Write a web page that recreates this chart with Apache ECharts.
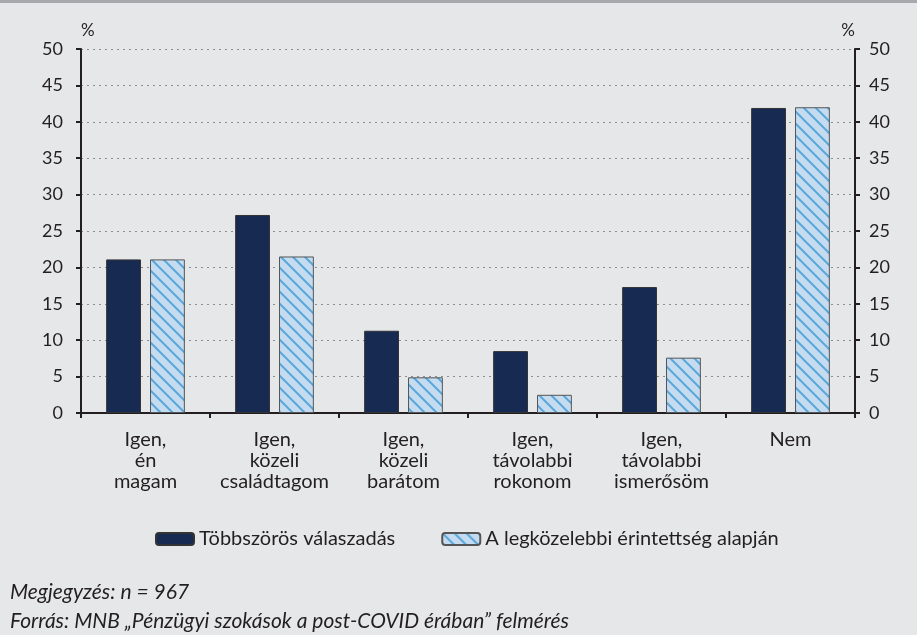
<!DOCTYPE html>
<html><head><meta charset="utf-8">
<script src="https://cdn.jsdelivr.net/npm/echarts@6/dist/echarts.min.js"></script>
<style>html,body{margin:0;padding:0;background:#e6e7e8;}#c{width:917px;height:635px;}</style>
</head><body><div id="c"></div>
<script>
const categories = ['Igen,\nén\nmagam','Igen,\nközeli\ncsaládtagom','Igen,\nközeli\nbarátom','Igen,\ntávolabbi\nrokonom','Igen,\ntávolabbi\nismerősöm','Nem'];
const seriesNames = ['Többszörös válaszadás','A legközelebbi érintettség alapján'];
const multiple = [21.1, 27.2, 11.3, 8.5, 17.3, 41.9];
const closest = [21.1, 21.5, 4.9, 2.5, 7.6, 42.0];
const yTicks = {min:0, max:50, interval:5};
const notes = ['Megjegyzés: n = 967','Forrás: MNB „Pénzügyi szokások a post-COVID érában” felmérés'];

const FONT = 'Lato, "Open Sans", sans-serif';
const pat = document.createElement('canvas');
pat.width = 12; pat.height = 12;
const g = pat.getContext('2d');
g.fillStyle = '#c5dcf0'; g.fillRect(0,0,12,12);
g.strokeStyle = '#5aa7db'; g.lineWidth = 2;
g.beginPath();
g.moveTo(-2,-2); g.lineTo(14,14);
g.moveTo(-14,-2); g.lineTo(2,14);
g.moveTo(10,-2); g.lineTo(26,14);
g.stroke();

const chart = echarts.init(document.getElementById('c'), null, {renderer:'canvas'});
const yAxisBase = {
  type:'value', min:yTicks.min, max:yTicks.max, interval:yTicks.interval,
  axisLine:{show:true, lineStyle:{color:'#231f20', width:2}},
  axisTick:{show:true, length:5, inside:false, lineStyle:{color:'#231f20', width:2}},
  axisLabel:{color:'#231f20', fontSize:18, fontFamily:FONT},
};
chart.setOption({
  backgroundColor:'#e6e7e8',
  animation:false,
  grid:{left:81, right:62, top:49, bottom:222, containLabel:false},
  graphic:[
    {type:'rect', left:0, top:0, shape:{width:917, height:3}, style:{fill:'#a7a9ac'}},
    {type:'text', left:10, top:582, style:{text:notes[0], font:'italic 21px '+FONT, fill:'#231f20'}},
    {type:'text', left:10, top:611, style:{text:notes[1], font:'italic 21px '+FONT, fill:'#231f20'}}
  ],
  legend:{
    top:524, left:150, itemWidth:38, itemHeight:12, itemGap:46,
    textStyle:{fontSize:20, color:'#231f20', fontFamily:FONT},
    data:seriesNames
  },
  xAxis:{
    type:'category', data:categories,
    axisLine:{lineStyle:{color:'#231f20', width:2}},
    axisTick:{show:true, length:5, lineStyle:{color:'#231f20', width:2}},
    axisLabel:{color:'#231f20', fontSize:20, fontFamily:FONT, lineHeight:21, margin:16, interval:0}
  },
  yAxis:[
    Object.assign({}, yAxisBase, {position:'left', name:'%', nameGap:10,
      axisLabel:Object.assign({}, yAxisBase.axisLabel, {margin:18}),
      nameTextStyle:{color:'#231f20', fontSize:17, fontFamily:FONT, align:'left'},
      splitLine:{show:true, lineStyle:{color:'#8a8c8e', type:[2,4], width:1}}}),
    Object.assign({}, yAxisBase, {position:'right', name:'%', nameGap:10,
      axisLabel:Object.assign({}, yAxisBase.axisLabel, {margin:14}),
      nameTextStyle:{color:'#231f20', fontSize:17, fontFamily:FONT, align:'right'},
      splitLine:{show:false}})
  ],
  series:[
    {name:seriesNames[0], type:'bar', data:multiple, barWidth:'27%', barGap:'26%',
     itemStyle:{color:'#172a52', borderColor:'#333', borderWidth:1}},
    {name:seriesNames[1], type:'bar', data:closest, barWidth:'27%',
     itemStyle:{color:{image:pat, repeat:'repeat'}, borderColor:'#555', borderWidth:1}}
  ]
});
</script></body></html>
